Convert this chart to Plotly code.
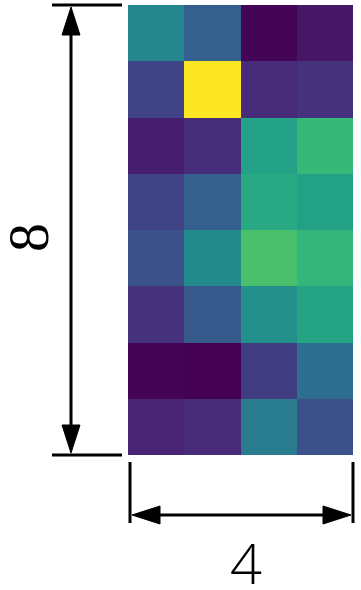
import plotly.graph_objects as go

# heatmap values, top row first
z_rows = [
    [0.46, 0.30, 0.01, 0.06],
    [0.20, 1.00, 0.12, 0.14],
    [0.08, 0.13, 0.57, 0.67],
    [0.20, 0.30, 0.60, 0.57],
    [0.25, 0.48, 0.71, 0.66],
    [0.14, 0.28, 0.50, 0.58],
    [0.01, 0.00, 0.18, 0.36],
    [0.10, 0.12, 0.42, 0.25],
]
n_rows_label = "8"
n_cols_label = "4"

W, H = 361, 590
x0, x1 = 128, 353
y0, y1 = 5, 455

def px(x):
    return x / W

def py(y):
    return 1 - y / H

fig = go.Figure(go.Heatmap(
    z=z_rows,
    colorscale="Viridis",
    zmin=0, zmax=1,
    showscale=False,
    xgap=0, ygap=0,
))

fig.update_xaxes(visible=False, domain=[px(x0), px(x1)])
fig.update_yaxes(visible=False, domain=[py(y1), py(y0)], autorange="reversed")

shapes = []
line = dict(color="black", width=3)
# vertical dimension
ax = 71
shapes.append(dict(type="line", xref="paper", yref="paper", x0=px(52), x1=px(122), y0=py(y0), y1=py(y0), line=line))
shapes.append(dict(type="line", xref="paper", yref="paper", x0=px(52), x1=px(122), y0=py(y1), y1=py(y1), line=line))
shapes.append(dict(type="line", xref="paper", yref="paper", x0=px(ax), x1=px(ax), y0=py(y0 + 20), y1=py(y1 - 20), line=line))
def tri(pts):
    p = "M " + " L ".join(f"{px(a)},{py(b)}" for a, b in pts) + " Z"
    return dict(type="path", xref="paper", yref="paper", path=p, fillcolor="black", line=dict(color="black", width=1))
shapes.append(tri([(ax, y0 + 2), (ax - 9, y0 + 30), (ax + 9, y0 + 30)]))
shapes.append(tri([(ax, y1 - 2), (ax - 9, y1 - 30), (ax + 9, y1 - 30)]))
# horizontal dimension
ay = 515
shapes.append(dict(type="line", xref="paper", yref="paper", x0=px(130), x1=px(130), y0=py(462), y1=py(523), line=line))
shapes.append(dict(type="line", xref="paper", yref="paper", x0=px(353), x1=px(353), y0=py(462), y1=py(523), line=line))
shapes.append(dict(type="line", xref="paper", yref="paper", x0=px(150), x1=px(333), y0=py(ay), y1=py(ay), line=line))
shapes.append(tri([(132, ay), (160, ay - 9), (160, ay + 9)]))
shapes.append(tri([(351, ay), (323, ay - 9), (323, ay + 9)]))

fig.update_layout(
    width=W, height=H,
    margin=dict(l=0, r=0, t=0, b=0),
    paper_bgcolor="white", plot_bgcolor="white",
    shapes=shapes,
    annotations=[
        dict(text=n_rows_label, xref="paper", yref="paper", x=px(28), y=py(237),
             showarrow=False, textangle=-90,
             font=dict(size=58, color="black", family="Liberation Serif, serif"),
             xanchor="center", yanchor="middle"),
        dict(text=n_cols_label, xref="paper", yref="paper", x=px(246), y=py(562),
             showarrow=False,
             font=dict(size=56, color="black", family="Open Sans", weight=300),
             xanchor="center", yanchor="middle"),
    ],
)

fig.write_html("out.html")
